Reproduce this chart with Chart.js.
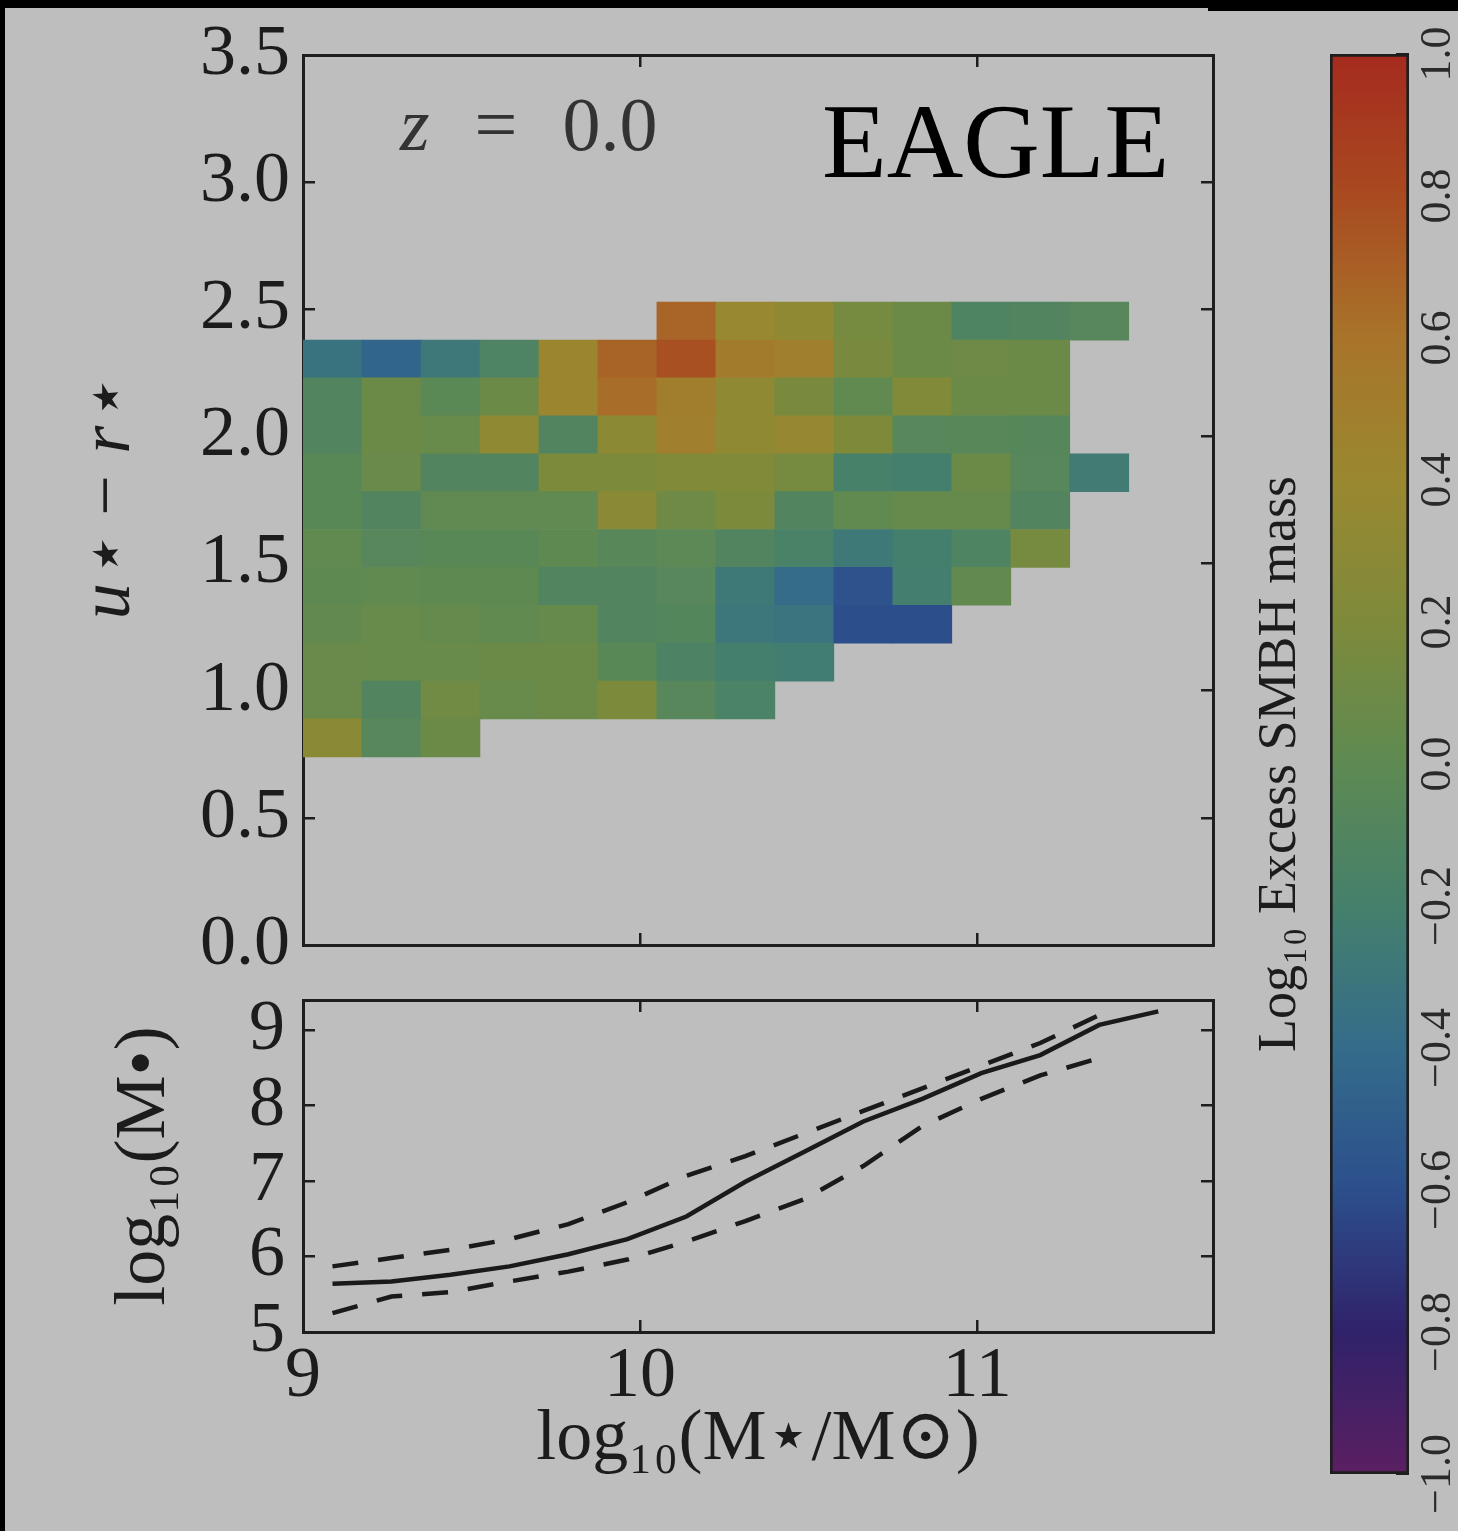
<!DOCTYPE html>
<html>
<head>
<meta charset="utf-8">
<script src="https://cdn.jsdelivr.net/npm/chart.js@4.4.1/dist/chart.umd.min.js"></script>
<style>
  html, body { margin: 0; padding: 0; background: #000; }
  #page { position: relative; width: 1458px; height: 1531px; overflow: hidden; }
  .bg1 { position: absolute; left: 5px; top: 8px; width: 1203px; height: 1523px; background: #bebebe; }
  .bg2 { position: absolute; left: 1208px; top: 11px; width: 250px; height: 1520px; background: #bebebe; }
  canvas { position: absolute; }
  .note { position: absolute; font-family: "Liberation Serif", serif; white-space: nowrap; }
</style>
</head>
<body>
<div id="page">
  <div class="bg1"></div>
  <div class="bg2"></div>
  <canvas id="top" width="1240" height="1035" style="left:0;top:-20px"></canvas>
  <canvas id="bottom" width="1240" height="611" style="left:0;top:920px"></canvas>
  <canvas id="cbar" width="218" height="1531" style="left:1240px;top:0"></canvas>
  <div class="note" style="left:400px;top:86px;font-size:76px;line-height:76px;color:#333;word-spacing:26px"><i>z</i> = 0.0</div>
  <div class="note" style="left:822px;top:89px;font-size:106px;line-height:106px;color:#000">EAGLE</div>
</div>
<script>
// stellar mass bins, log10(M*/Msun)
const massEdges = [9.0, 9.175, 9.35, 9.525, 9.7, 9.875, 10.05, 10.225, 10.4, 10.575, 10.75, 10.925, 11.1, 11.275, 11.45];
// colour bins, u* - r*
const colourEdges = [0.74, 0.889, 1.038, 1.187, 1.336, 1.485, 1.634, 1.783, 1.932, 2.081, 2.23, 2.379, 2.528];

// log10 excess SMBH mass per cell, rows from the bluest colour bin upwards (null = no galaxies)
const excessRows = [
  [0.28, -0.06, 0.09, null, null, null, null, null, null, null, null, null, null, null],
  [0.07, -0.10, 0.12, 0.06, 0.09, 0.19, -0.06, -0.15, null, null, null, null, null, null],
  [0.07, 0.06, 0.06, 0.08, 0.08, -0.04, -0.14, -0.21, -0.23, null, null, null, null, null],
  [0.03, 0.06, 0.04, 0.02, 0.05, -0.10, -0.08, -0.30, -0.32, -0.60, -0.60, null, null, null],
  [0.00, 0.02, 0.00, 0.00, -0.10, -0.10, -0.06, -0.27, -0.40, -0.58, -0.22, 0.03, null, null],
  [0.02, -0.06, -0.04, -0.04, 0.00, -0.05, -0.02, -0.10, -0.16, -0.27, -0.21, -0.12, 0.15, null],
  [-0.04, -0.10, 0.01, 0.01, 0.01, 0.28, 0.10, 0.19, -0.10, 0.02, 0.05, 0.05, -0.10, null],
  [-0.04, 0.07, -0.10, -0.10, 0.19, 0.19, 0.22, 0.22, 0.15, -0.18, -0.21, 0.08, -0.06, -0.25],
  [-0.10, 0.08, 0.06, 0.33, -0.10, 0.30, 0.48, 0.33, 0.37, 0.20, -0.06, -0.05, -0.07, null],
  [-0.10, 0.08, -0.03, 0.09, 0.42, 0.63, 0.50, 0.33, 0.17, 0.02, 0.22, 0.08, 0.08, null],
  [-0.33, -0.45, -0.28, -0.13, 0.42, 0.68, 0.77, 0.52, 0.48, 0.17, 0.09, 0.10, 0.09, null],
  [null, null, null, null, null, null, 0.67, 0.38, 0.33, 0.15, 0.08, -0.12, -0.10, -0.06]
];

// lower panel: black hole mass vs stellar mass
const massMid = [9.0875, 9.2625, 9.4375, 9.6125, 9.7875, 9.9625, 10.1375, 10.3125, 10.4875, 10.6625, 10.8375, 11.0125, 11.1875, 11.3625, 11.5375];
const bhMedian = [5.64, 5.67, 5.76, 5.87, 6.03, 6.23, 6.53, 6.99, 7.39, 7.79, 8.09, 8.43, 8.67, 9.07, 9.25];
const bhUpper = [5.87, 5.98, 6.09, 6.23, 6.43, 6.72, 7.07, 7.33, 7.63, 7.93, 8.23, 8.53, 8.83, 9.20];
const bhLower = [5.25, 5.47, 5.53, 5.67, 5.80, 5.96, 6.20, 6.47, 6.76, 7.20, 7.73, 8.09, 8.40, 8.63];

// colour map (value, colour), as it looks in the picture
const cmapStops = [
  [-1.0, '#5b1f61'], [-0.8, '#30226a'], [-0.6, '#2c4f8c'], [-0.4, '#346c8a'],
  [-0.2, '#45806c'], [0.0, '#5e8a52'], [0.2, '#7e8a3a'], [0.4, '#9a8830'],
  [0.6, '#a8742a'], [0.8, '#a94a20'], [1.0, '#a52b1e']
];

function hexToRgb(h) {
  return [1, 3, 5].map(i => parseInt(h.slice(i, i + 2), 16));
}
function cmap(v) {
  v = Math.max(-1, Math.min(1, v));
  for (let i = 1; i < cmapStops.length; i++) {
    if (v <= cmapStops[i][0]) {
      const [v0, c0] = cmapStops[i - 1];
      const [v1, c1] = cmapStops[i];
      const t = (v - v0) / (v1 - v0);
      const a = hexToRgb(c0), b = hexToRgb(c1);
      const m = a.map((x, k) => Math.round(x + (b[k] - x) * t));
      return `rgb(${m[0]},${m[1]},${m[2]})`;
    }
  }
  return cmapStops[cmapStops.length - 1][1];
}

Chart.defaults.font.family = '"Liberation Serif", "DejaVu Serif", serif';
Chart.defaults.color = '#1c1c1c';

const INK = '#1e1e1e';
const tickFont = { size: 72 };

// inward ticks: a negative tick length puts the marks inside the axes box
function frameAxis(extra) {
  return Object.assign({
    grid: { drawOnChartArea: false, drawTicks: true, tickLength: -12, color: INK, lineWidth: 2.5, offset: false },
    border: { display: true, color: INK, width: 3 }
  }, extra);
}

// ---- top panel: colour-mass grid as floating bars ----
const cellSets = excessRows.map((row, r) => {
  const data = [], colours = [];
  row.forEach((v, c) => {
    if (v === null) return;
    data.push({ x: (massEdges[c] + massEdges[c + 1]) / 2, y: [colourEdges[r], colourEdges[r + 1]] });
    colours.push(cmap(v));
  });
  return { data, backgroundColor: colours, borderWidth: 0 };
});

new Chart(document.getElementById('top'), {
  type: 'bar',
  data: { datasets: cellSets },
  options: {
    responsive: false, animation: false, devicePixelRatio: 1,
    layout: { padding: { left: 0, right: 27, top: 75, bottom: 70 } },
    plugins: { legend: { display: false }, tooltip: { enabled: false } },
    datasets: { bar: { grouped: false, categoryPercentage: 1, barPercentage: 1 } },
    scales: {
      x: frameAxis({ type: 'linear', position: 'bottom', min: 9, max: 11.7, offset: false,
        ticks: { display: false, stepSize: 1, includeBounds: false },
        afterFit: s => { s.height = 0; } }),
      xT: frameAxis({ type: 'linear', position: 'top', min: 9, max: 11.7, offset: false,
        ticks: { display: false, stepSize: 1, includeBounds: false },
        afterFit: s => { s.height = 0; } }),
      y: frameAxis({ type: 'linear', position: 'left', min: 0, max: 3.5,
        ticks: { stepSize: 0.5, padding: 25, font: tickFont, autoSkip: false, callback: v => v.toFixed(1) },
        title: { display: true, text: 'u⋆ − r⋆', font: { size: 72, style: 'italic' }, padding: { top: 67 } },
        afterFit: s => { s.width = 303; } }),
      yR: frameAxis({ type: 'linear', position: 'right', min: 0, max: 3.5,
        ticks: { display: false, stepSize: 0.5 },
        afterFit: s => { s.width = 0; } })
    }
  }
});

// ---- bottom panel: black hole mass relation ----
const line = (ys, dash) => ({
  data: ys.map((y, i) => ({ x: massMid[i], y })),
  borderColor: '#1a1a1a', borderWidth: 4.5, borderDash: dash,
  pointRadius: 0, fill: false, tension: 0
});

new Chart(document.getElementById('bottom'), {
  type: 'line',
  data: { datasets: [line(bhMedian, []), line(bhUpper, [26, 20]), line(bhLower, [26, 20])] },
  options: {
    responsive: false, animation: false, devicePixelRatio: 1,
    layout: { padding: { left: 0, right: 27, top: 80, bottom: 0 } },
    plugins: { legend: { display: false }, tooltip: { enabled: false } },
    scales: {
      x: frameAxis({ type: 'linear', position: 'bottom', min: 9, max: 11.7,
        ticks: { stepSize: 1, includeBounds: false, padding: 14, font: tickFont, maxRotation: 0, autoSkip: false },
        title: { display: true, text: 'log₁₀(M⋆/M⊙)', font: { size: 72 }, padding: { top: 0, bottom: 48 } },
        afterFit: s => { s.height = 199; } }),
      xT: frameAxis({ type: 'linear', position: 'top', min: 9, max: 11.7,
        ticks: { display: false, stepSize: 1, includeBounds: false },
        afterFit: s => { s.height = 0; } }),
      y: frameAxis({ type: 'linear', position: 'left', min: 5, max: 9.4,
        ticks: { stepSize: 1, includeBounds: false, padding: 30, font: tickFont, autoSkip: false },
        title: { display: true, text: 'log₁₀(M•)', font: { size: 72 }, padding: { top: 102 } },
        afterFit: s => { s.width = 303; } }),
      yR: frameAxis({ type: 'linear', position: 'right', min: 5, max: 9.4,
        ticks: { display: false, stepSize: 1, includeBounds: false },
        afterFit: s => { s.width = 0; } })
    }
  }
});

// ---- colour bar ----
new Chart(document.getElementById('cbar'), {
  type: 'bar',
  data: {
    labels: ['excess'],
    datasets: [{
      data: [[-1, 1]],
      borderColor: INK, borderWidth: 3, borderSkipped: false,
      backgroundColor: ctx => {
        const chart = ctx.chart;
        if (!chart.chartArea) return null;
        const ys = chart.scales.y;
        const g = chart.ctx.createLinearGradient(0, ys.getPixelForValue(-1), 0, ys.getPixelForValue(1));
        cmapStops.forEach(([v, c]) => g.addColorStop((v + 1) / 2, c));
        return g;
      }
    }]
  },
  options: {
    responsive: false, animation: false, devicePixelRatio: 1,
    layout: { padding: { left: 0, right: 0, top: 54, bottom: 57 } },
    plugins: { legend: { display: false }, tooltip: { enabled: false } },
    datasets: { bar: { categoryPercentage: 1, barPercentage: 1 } },
    scales: {
      x: { display: false },
      y: { position: 'left', min: -1, max: 1,
        grid: { display: false }, border: { display: false },
        ticks: { display: false },
        title: { display: true, text: 'Log₁₀ Excess SMBH mass', font: { size: 54 }, padding: { top: 8 } },
        afterFit: s => { s.width = 90; } },
      yR: { position: 'right', min: -1, max: 1,
        grid: { drawOnChartArea: false, drawTicks: true, tickLength: -13, color: INK, lineWidth: 2 },
        border: { display: false },
        ticks: { stepSize: 0.2, minRotation: 90, maxRotation: 90, crossAlign: 'center', padding: 3,
          font: { size: 44 }, color: '#2a2a2a', autoSkip: false,
          callback: v => (v < -1e-9 ? '−' : '') + Math.abs(v).toFixed(1) },
        afterFit: s => { s.width = 49; } }
    }
  }
});
</script>
</body>
</html>
